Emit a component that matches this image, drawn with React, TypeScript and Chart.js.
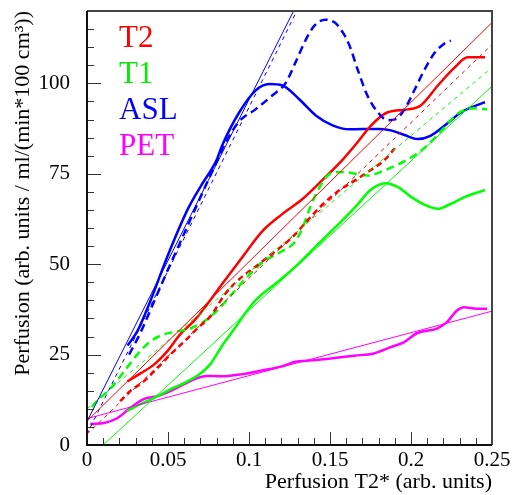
import { useEffect, useRef } from 'react';
import { Chart, registerables } from 'chart.js';
Chart.register(...registerables);

type P = [number, number];

const xTicks = [0, 0.05, 0.1, 0.15, 0.2, 0.25];
const xTickLabels = ['0', '0.05', '0.1', '0.15', '0.2', '0.25'];
const yTicks = [0, 25, 50, 75, 100];
const yTickLabels = ['0', '25', '50', '75', '100'];

const legendLabels = ['T2', 'T1', 'ASL', 'PET'];
const legendColors = ['#ff0000', '#00ee00', '#0000ff', '#ff00ff'];

const t2Solid: P[] = [[0.025,17.6],[0.033,19.8],[0.0415,22.3],[0.0495,25.9],[0.0575,30.6],[0.066,34.3],[0.074,38.8],[0.0835,44.6],[0.096,52],[0.108,59],[0.1207,63.9],[0.133,68],[0.1454,73.3],[0.158,79],[0.167,83.7],[0.175,88.2],[0.1856,92],[0.198,92.8],[0.206,93.9],[0.2166,99.4],[0.227,104.4],[0.235,107.2],[0.2457,107.2]];
const t2Dashed: P[] = [[0.0204,12.1],[0.0266,14.9],[0.035,17.6],[0.0433,21.2],[0.0514,25],[0.06,28.6],[0.068,32.2],[0.076,35.5],[0.0855,41.9],[0.096,46.6],[0.104,49.3],[0.1145,53],[0.127,57.6],[0.137,62.5],[0.1454,66.5],[0.156,70.5],[0.166,73.3],[0.175,76],[0.183,78.5],[0.19,82]];
const t1Solid: P[] = [[0.0248,9.4],[0.033,11.3],[0.0415,13],[0.0514,15.4],[0.062,17.6],[0.07,19.8],[0.076,22.3],[0.0835,27.5],[0.09,31.5],[0.097,36],[0.104,40],[0.1163,44.6],[0.1287,49.3],[0.141,54.8],[0.1535,60.3],[0.166,66],[0.175,70.5],[0.184,72.4],[0.192,71.3],[0.2,68.6],[0.2085,66.4],[0.2166,65.3],[0.2246,66.7],[0.2333,68.6],[0.2457,70.5]];
const t1Dashed: P[] = [[0.003,10.5],[0.006,12.1],[0.0142,15.5],[0.023,20.4],[0.031,25],[0.039,28.6],[0.0476,30.6],[0.0557,31.4],[0.0637,32.2],[0.0724,34.2],[0.08,37],[0.09,42],[0.1,47],[0.11,51],[0.12,53.5],[0.128,56],[0.133,60],[0.138,66],[0.1436,71.3],[0.1498,74.9],[0.158,75.5],[0.167,74.9],[0.173,74.5],[0.183,75.8],[0.1993,79.3],[0.208,82],[0.2203,87.6],[0.2284,91.5],[0.2389,93.1],[0.2469,92.8]];
const aslSolid: P[] = [[0.025,27.5],[0.031,31.4],[0.039,39.7],[0.0495,52],[0.062,65],[0.07,71.4],[0.08,78.8],[0.0835,82.9],[0.094,92],[0.104,98],[0.1126,99.8],[0.1207,99.4],[0.131,95.6],[0.141,91.2],[0.1516,88.4],[0.162,87.3],[0.1795,87.4],[0.1875,87],[0.196,85.7],[0.204,84.6],[0.212,85.5],[0.221,88.4],[0.231,92],[0.2457,94.8]];
const aslDashed: P[] = [[0.026,25],[0.0335,31.5],[0.0412,39.5],[0.05,48.5],[0.06,58.5],[0.07,68.5],[0.08,78.3],[0.0855,83.5],[0.094,89.5],[0.104,92.8],[0.1145,96.7],[0.1225,100],[0.1287,105.8],[0.135,112],[0.1405,116],[0.147,117.6],[0.153,116.8],[0.158,114],[0.162,110.5],[0.167,103.9],[0.173,96.7],[0.1795,92],[0.1856,89.8],[0.1906,90.1],[0.196,92.8],[0.2023,98.3],[0.2085,103.9],[0.2147,108.5],[0.2197,110.7],[0.2246,111.8]];
const petSolid: P[] = [[0.002,5.8],[0.0105,6.1],[0.0186,7.4],[0.0266,10.2],[0.035,12.7],[0.0433,13.5],[0.0514,14.9],[0.06,16.8],[0.068,18.5],[0.074,19.1],[0.0835,19],[0.096,19.6],[0.108,20.6],[0.1207,21.8],[0.1287,23],[0.139,23.4],[0.1516,24],[0.165,24.7],[0.177,25.3],[0.187,27],[0.1955,28.4],[0.2036,30.9],[0.216,32.2],[0.222,33.9],[0.2284,37.2],[0.2327,38.1],[0.2407,37.7],[0.2469,37.7]];

const t2Fit: P[] = [[0, 6.6], [0.25, 116.8]];
const t2FitDashed: P[] = [[0, 3], [0.25, 110.7]];
const t1Fit: P[] = [[0.01, 0], [0.25, 99.2]];
const t1FitDashed: P[] = [[0, 10], [0.25, 104.4]];
const aslFit: P[] = [[0, 6.5], [0.1275, 120]];
const aslFitDashed: P[] = [[0, 3], [0.1295, 120]];
const petFit: P[] = [[0, 7.3], [0.25, 37]];

const RED = '#ff0000';
const GREEN = '#00ff00';
const BLUE = '#0000ff';
const MAG = '#ff00ff';
const FONT = "'Liberation Serif', 'DejaVu Serif', serif";

function ds(data: P[], color: string, width: number, dash: number[] = []) {
  return {
    data: data.map(([x, y]) => ({ x, y })),
    borderColor: color,
    backgroundColor: color,
    borderWidth: width,
    borderDash: dash,
    pointRadius: 0,
    fill: false,
    cubicInterpolationMode: 'monotone' as const,
  };
}

const framePlugin = {
  id: 'frameTicks',
  afterDraw(chart: any) {
    const { ctx, chartArea } = chart;
    const { left, right, top, bottom } = chartArea;
    const xs = chart.scales.x;
    const ys = chart.scales.y;
    ctx.save();
    ctx.strokeStyle = '#333';
    ctx.lineWidth = 1;
    ctx.beginPath();
    for (let i = 0; i <= 24; i++) {
      const v = i * 5;
      const py = Math.round(ys.getPixelForValue(v)) + 0.5;
      const len = v % 25 === 0 ? 14 : 7;
      ctx.moveTo(left, py);
      ctx.lineTo(left + len, py);
    }
    for (let i = 0; i <= 25; i++) {
      const v = i * 0.01;
      const px = Math.round(xs.getPixelForValue(v)) + 0.5;
      const len = i % 5 === 0 ? 13 : 7;
      ctx.moveTo(px, bottom);
      ctx.lineTo(px, bottom - len);
    }
    ctx.stroke();
    ctx.strokeStyle = '#444';
    ctx.lineWidth = 2;
    ctx.beginPath();
    ctx.moveTo(left, top);
    ctx.lineTo(right, top);
    ctx.lineTo(right, bottom);
    ctx.stroke();
    ctx.strokeStyle = '#111';
    ctx.lineWidth = 2;
    ctx.beginPath();
    ctx.moveTo(left, top);
    ctx.lineTo(left, bottom);
    ctx.lineTo(right, bottom);
    ctx.stroke();
    ctx.font = `31px ${FONT}`;
    ctx.textBaseline = 'alphabetic';
    ctx.textAlign = 'left';
    legendLabels.forEach((lab, i) => {
      ctx.fillStyle = legendColors[i];
      ctx.fillText(lab, left + 32, top + 36 + i * 36);
    });
    ctx.restore();
  },
};

export default function App() {
  const ref = useRef<HTMLCanvasElement | null>(null);
  useEffect(() => {
    let chart: Chart | null = null;
    let cancelled = false;
    const build = () => {
      if (cancelled || !ref.current) return;
      const font = { family: FONT, size: 21 };
      const titleFont = { family: FONT, size: 22 };
      chart = new Chart(ref.current, {
        type: 'line',
        data: {
          datasets: [
            ds(t2Fit, RED, 1),
            ds(t2FitDashed, RED, 1, [4, 4]),
            ds(t1Fit, GREEN, 1),
            ds(t1FitDashed, GREEN, 1, [4, 4]),
            ds(aslFit, BLUE, 1),
            ds(aslFitDashed, BLUE, 1, [4, 4]),
            ds(petFit, MAG, 1),
            ds(t2Dashed, RED, 2.5, [6, 4]),
            ds(t1Dashed, GREEN, 2.5, [8, 5]),
            ds(aslDashed, BLUE, 2.5, [8, 5]),
            ds(t2Solid, RED, 2.5),
            ds(t1Solid, GREEN, 2.5),
            ds(aslSolid, BLUE, 2.5),
            ds(petSolid, MAG, 2.5),
          ] as any,
        },
        options: {
          animation: false,
          responsive: false,
          maintainAspectRatio: false,
          layout: { padding: { top: 11, right: 20, bottom: 0, left: 0 } },
          plugins: { legend: { display: false }, tooltip: { enabled: false } },
          scales: {
            x: {
              type: 'linear',
              min: 0,
              max: 0.25,
              grid: { display: false, drawTicks: false },
              border: { display: false },
              ticks: {
                font,
                color: '#000',
                padding: 3,
                autoSkip: false,
                maxRotation: 0,
                callback: (_v: any, i: number) => xTickLabels[i],
              },
              afterBuildTicks: (s: any) => {
                s.ticks = xTicks.map((v) => ({ value: v }));
              },
              afterFit: (s: any) => {
                s.height = 50;
                s.paddingLeft = 0;
                s.paddingRight = 0;
              },
              title: {
                display: true,
                text: 'Perfusion T2* (arb. units)',
                align: 'end',
                color: '#000',
                font: titleFont,
                padding: { top: 0, bottom: 0 },
              },
            },
            y: {
              type: 'linear',
              min: 0,
              max: 120,
              grid: { display: false, drawTicks: false },
              border: { display: false },
              ticks: {
                font,
                color: '#000',
                padding: 17,
                autoSkip: false,
                callback: (_v: any, i: number) => yTickLabels[i],
              },
              afterBuildTicks: (s: any) => {
                s.ticks = yTicks.map((v) => ({ value: v }));
              },
              afterFit: (s: any) => {
                s.width = 87;
                s.paddingTop = 0;
                s.paddingBottom = 0;
              },
              title: {
                display: true,
                text: 'Perfusion (arb. units / ml/(min*100 cm³))',
                align: 'end',
                color: '#000',
                font: titleFont,
                padding: { top: 10, bottom: 0 },
              },
            },
          },
        } as any,
        plugins: [framePlugin],
      });
    };
    const fonts = (document as any).fonts;
    if (fonts && fonts.load) {
      Promise.all([
        fonts.load("21px 'Liberation Serif'"),
        fonts.load("31px 'Liberation Serif'"),
      ]).then(build, build);
    } else {
      build();
    }
    return () => {
      cancelled = true;
      if (chart) chart.destroy();
    };
  }, []);
  return (
    <div style={{ position: 'absolute', left: 0, top: 0, width: 512, height: 495, background: '#fff' }}>
      <canvas ref={ref} width={512} height={495} style={{ display: 'block' }} />
    </div>
  );
}
